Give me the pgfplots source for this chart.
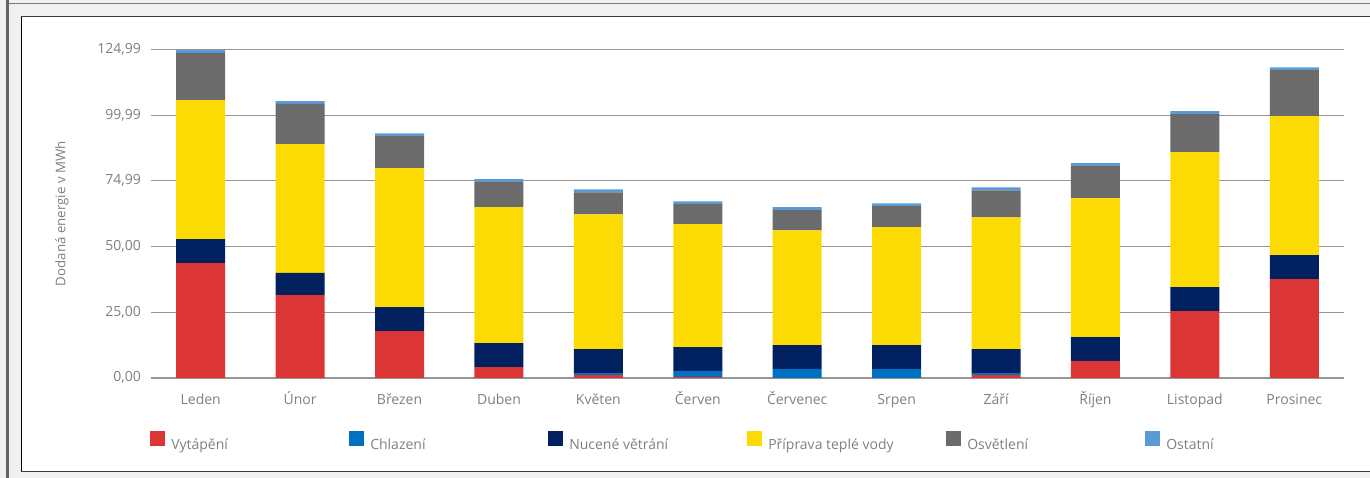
\documentclass[border=0pt]{standalone}
\usepackage{pgfplots}
\pgfplotsset{compat=1.18}
\usepackage{pgfplotstable}
\usepackage{fontspec}
\setmainfont{Open Sans}
\definecolor{cVyt}{RGB}{219,53,53}
\definecolor{cChl}{RGB}{0,112,192}
\definecolor{cVet}{RGB}{0,32,96}
\definecolor{cTv}{RGB}{252,219,4}
\definecolor{cOsv}{RGB}{107,107,107}
\definecolor{cOst}{RGB}{91,155,213}
\definecolor{txt}{RGB}{128,128,128}
\definecolor{grid}{RGB}{150,150,150}
\definecolor{bg}{RGB}{240,240,240}
\definecolor{dline}{RGB}{100,100,100}
\definecolor{tline}{RGB}{120,120,120}
\definecolor{bline}{RGB}{60,60,60}
\pgfplotstableread{
x vyt chl vet tv osv ost
0 43.7 0   9.1 52.9 18.0 1.1
1 31.5 0   8.4 49.1 15.3 1.0
2 17.8 0   9.1 52.9 12.2 1.1
3 4.1  0   9.1 51.8 9.5  1.1
4 1.0  0.8 9.1 51.3 8.4  1.1
5 0.3  2.3 9.1 46.8 7.6  1.1
6 0    3.35 9.1 43.7 7.7 1.1
7 0    3.35 9.1 44.9 8.0 1.1
8 1.0  0.8 9.1 50.2 10.3 1.1
9 6.4  0   9.1 52.9 12.2 1.1
10 25.4 0  9.1 51.4 14.5 1.1
11 37.6 0  9.1 52.9 17.5 1.1
}\data
\newcommand{\lgent}[1]{\makebox[184pt][l]{\hspace{6pt}\rule[-2.3pt]{0pt}{15pt}#1}}
\begin{document}
\begin{tikzpicture}
\fill[bg] (0,0) rectangle (1370pt,478pt);
\fill[dline] (6pt,0) rectangle (9pt,478pt);
\draw[tline, line width=1pt] (9pt,474.7pt) -- (1370pt,474.7pt);
\fill[white] (21.5pt,6.3pt) rectangle (1372pt,461.3pt);
\draw[black, line width=1pt] (21.5pt,6.3pt) -- (21.5pt,461.3pt);
\draw[bline, line width=1.5pt] (21pt,461.3pt) -- (1372pt,461.3pt);
\draw[bline, line width=1.5pt] (21pt,6.3pt) -- (1372pt,6.3pt);
\begin{axis}[
  at={(151pt,100.2pt)}, anchor=south west,
  scale only axis, width=1193pt, height=328.3pt,
  xmin=-0.5, xmax=11.5, ymin=0, ymax=124.99,
  axis x line=none, axis y line*=left, y axis line style={draw=none},
  ytick={0,25,50,74.99,99.99,124.99},
  yticklabels={{0,00},{25,00},{50,00},{74,99},{99,99},{124,99}},
  ymajorgrids, major grid style={draw=grid, line width=1pt},
  ytick style={draw=none},
  yticklabel style={font=\fontsize{14}{16}\selectfont, text=txt, inner sep=0pt, xshift=-10pt},
  ylabel={Dodaná energie v MWh},
  ylabel style={at={(axis description cs:-0.0746,0.5)}, anchor=center, font=\fontsize{13.3}{15}\selectfont, text=txt},
]
\addplot[draw=none, forget plot] coordinates {(0,0)};
\end{axis}
\begin{axis}[
  at={(151pt,100.2pt)}, anchor=south west,
  scale only axis, width=1193pt, height=328.3pt,
  ybar stacked, bar width=49pt,
  xmin=-0.5, xmax=11.5, ymin=0, ymax=124.99,
  clip=false,
  axis y line=none, axis x line*=bottom,
  axis line style={draw=grid, line width=1.6pt},
  x axis line style={-},
  xtick={0,...,11},
  xticklabels={Leden,Únor,Březen,Duben,Květen,Červen,Červenec,Srpen,Září,Říjen,Listopad,Prosinec},
  xtick style={draw=none},
  extra x ticks={-0.5,0.5,1.5,2.5,3.5,4.5,5.5,6.5,7.5,8.5,9.5,10.5,11.5},
  extra x tick labels={},
  extra x tick style={tick align=outside, major tick length=6pt, tick style={draw=grid, line width=1pt}, grid=none},
  xticklabel style={font=\fontsize{14}{16}\selectfont, text=txt, inner sep=0pt, text height=10pt, text depth=3pt, yshift=-16.2pt},
  legend style={at={(axis description cs:-0.0008,-0.193)}, anchor=west, draw=none, fill=none, legend columns=6, inner sep=0pt, nodes={inner sep=0pt}, column sep=0pt, font=\fontsize{14}{16}\selectfont, text=txt},
  legend image code/.code={\fill[#1,draw=none] (0pt,-2.3pt) rectangle (15pt,12.7pt);},
]
\addplot[fill=cVyt, draw=none] table[x=x,y=vyt] {\data};
\addplot[fill=cChl, draw=none] table[x=x,y=chl] {\data};
\addplot[fill=cVet, draw=none] table[x=x,y=vet] {\data};
\addplot[fill=cTv, draw=none] table[x=x,y=tv] {\data};
\addplot[fill=cOsv, draw=none] table[x=x,y=osv] {\data};
\addplot[fill=cOst, draw=none] table[x=x,y=ost] {\data};
\legend{\lgent{Vytápění},\lgent{Chlazení},\lgent{Nucené větrání},\lgent{Příprava teplé vody},\lgent{Osvětlení},\lgent{Ostatní}}
\end{axis}
\pgfresetboundingbox
\path (0,0) rectangle (1370pt,478pt);
\end{tikzpicture}
\end{document}
